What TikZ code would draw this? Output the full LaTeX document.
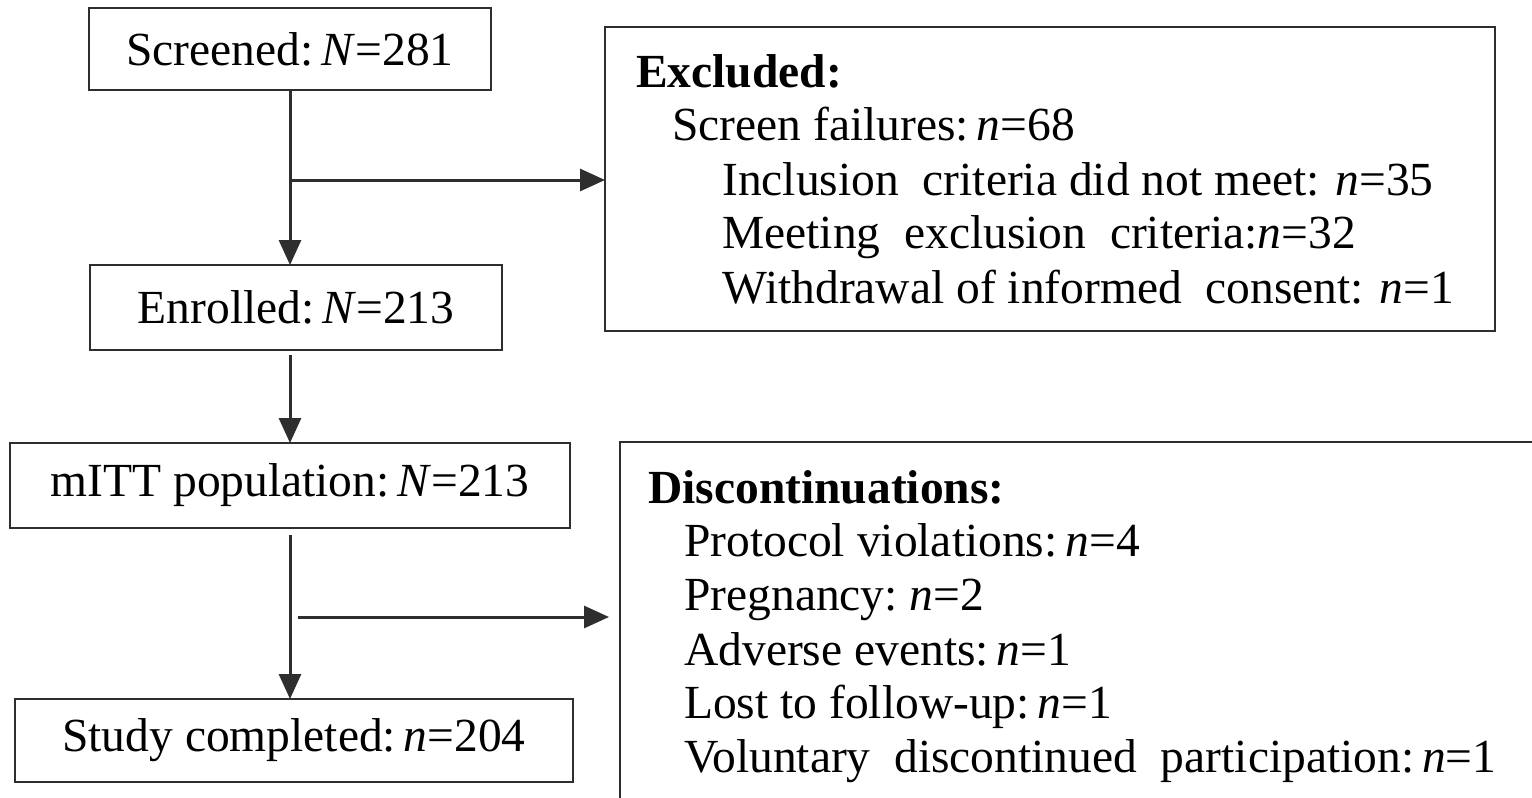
\documentclass[tikz,border=0pt]{standalone}
\usepackage{fontspec}
\setmainfont{Liberation Serif}
\usetikzlibrary{arrows.meta}
\definecolor{ink}{HTML}{2E2E2E}
\tikzset{
  box/.style={draw=ink, line width=2.8pt, inner sep=0pt, outer sep=0pt},
  arr/.style={draw=ink, line width=3pt, -{Triangle[length=25pt,width=22pt]}},
  txt/.style={anchor=base west, inner sep=0pt, text=black},
}
\begin{document}
\begin{tikzpicture}[x=1pt,y=-1pt,font=\fontsize{47.5}{57}\selectfont]
\clip (0,0) rectangle (1532,798);
\fill[white] (0,0) rectangle (1532,798);
% left column boxes
\node[box, minimum width=402pt, minimum height=82pt] (scr) at (290,49) {Screened:\,\textit{N}=281};
\node[box, minimum width=412pt, minimum height=85pt] (enr) at (296,307.5) {Enrolled:\,\textit{N}=213};
\node[box, minimum width=560pt, minimum height=85pt] (mitt) at (290,485.5) {mITT\ population:\,\textit{N}=213};
\node[box, minimum width=558pt, minimum height=83pt] (done) at (294,740.5) {Study\ completed:\,\textit{n}=204};
% right boxes
\node[box, minimum width=890pt, minimum height=304pt] (exc) at (1050,179) {};
\node[box, anchor=north west, minimum width=1000pt, minimum height=420pt] (dis) at (620,442) {};
% excluded text
\node[txt] (e0) at (636,87) {\textbf{Excluded:}};
\node[txt] (e1) at (672,140) {Screen failures:\,\textit{n}=68};
\node[txt] (e2) at (722,195) {Inclusion\ \ criteria did not meet: \textit{n}=35};
\node[txt] (e3) at (722,248) {Meeting\ \ exclusion\ \ criteria:\textit{n}=32};
\node[txt] (e4) at (722,303) {Withdrawal\ of informed\ \ consent: \textit{n}=1};
% discontinuation text
\node[txt] (d0) at (648,503) {\textbf{Discontinuations:}};
\node[txt] (d1) at (684,556) {Protocol violations:\,\textit{n}=4};
\node[txt] (d2) at (684,610) {Pregnancy:\ \textit{n}=2};
\node[txt] (d3) at (684,665) {Adverse events:\,\textit{n}=1};
\node[txt] (d4) at (684,718) {Lost to follow-up:\,\textit{n}=1};
\node[txt] (d5) at (684,772) {Voluntary\ \ discontinued\ \ participation:\,\textit{n}=1};
% connectors
\coordinate (t1) at (290,91);
\coordinate (b1) at (290,180);
\draw[arr] (t1) -- (t1 |- enr.north);
\draw[arr] (b1) -- (b1 -| exc.west);
\coordinate (t2) at (290,355);
\draw[arr] (t2) -- (t2 |- mitt.north);
\coordinate (t3) at (290,535);
\draw[arr] (t3) -- (t3 |- done.north);
\coordinate (b2) at (298,617);
\coordinate (b2e) at (609,617);
\draw[arr] (b2) -- (b2e);
\end{tikzpicture}
\end{document}
